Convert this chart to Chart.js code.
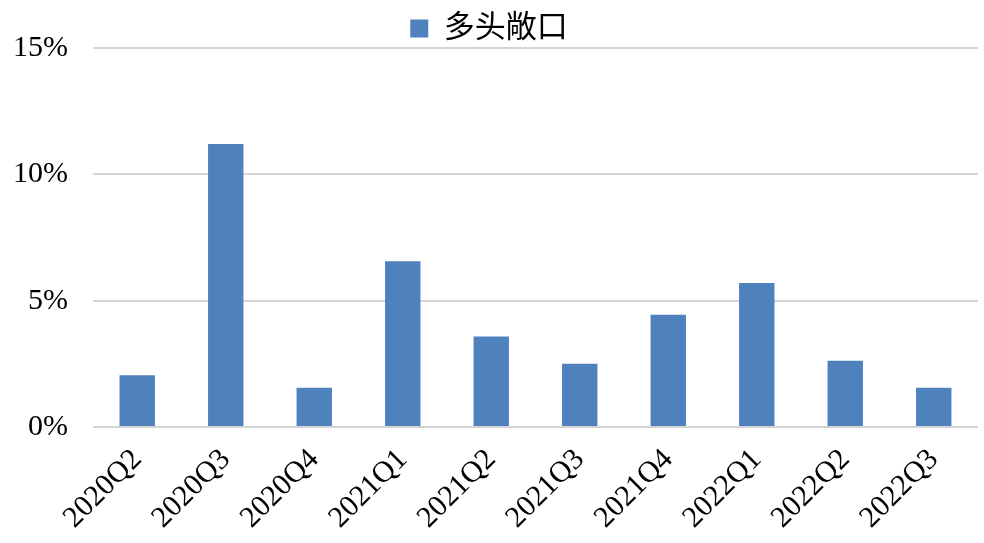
<!DOCTYPE html>
<html>
<head>
<meta charset="utf-8">
<script src="https://cdn.jsdelivr.net/npm/chart.js@4"></script>
<style>
  html, body { margin: 0; padding: 0; background: #fff; }
  #wrap { width: 984px; height: 543px; }
</style>
</head>
<body>
<div id="wrap"><canvas id="chart" width="984" height="543"></canvas></div>
<script>
// quarters on the x axis
const quarters = ['2020Q2', '2020Q3', '2020Q4', '2021Q1', '2021Q2', '2021Q3', '2021Q4', '2022Q1', '2022Q2', '2022Q3'];
// long exposure, percent
const longExposure = [2.05, 11.2, 1.55, 6.56, 3.58, 2.5, 4.44, 5.7, 2.62, 1.55];
const yTicks = [0, 5, 10, 15];

const serif = "'Liberation Serif', 'Times New Roman', serif";
const cjk = "'Liberation Serif', 'Noto Sans CJK SC', serif";

new Chart(document.getElementById('chart'), {
  type: 'bar',
  data: {
    labels: quarters,
    datasets: [{
      label: '多头敞口',
      data: longExposure,
      backgroundColor: '#4f81bd',
      borderWidth: 0,
      categoryPercentage: 1,
      barPercentage: 0.4
    }]
  },
  options: {
    responsive: false,
    animation: false,
    layout: { padding: { left: 0, right: 6, top: 0, bottom: 0 } },
    plugins: {
      legend: {
        position: 'top',
        maxHeight: 48,
        labels: {
          color: '#000',
          font: { family: cjk, size: 31 },
          boxWidth: 18,
          boxHeight: 18,
          padding: 13
        }
      },
      tooltip: { enabled: false }
    },
    scales: {
      x: {
        grid: { display: false },
        border: { display: false },
        ticks: {
          color: '#000',
          font: { family: serif, size: 30 },
          maxRotation: 45,
          minRotation: 45,
          padding: 7
        },
        afterFit: s => { s.height = 116; }
      },
      y: {
        min: 0,
        max: 15,
        afterBuildTicks: s => { s.ticks = yTicks.map(v => ({ value: v })); },
        grid: { color: '#d4d4d4', lineWidth: 2, drawTicks: false },
        border: { display: false },
        ticks: {
          color: '#000',
          font: { family: serif, size: 30 },
          padding: 25,
          callback: v => v + '%'
        },
        afterFit: s => { s.width = 93; }
      }
    }
  }
});
</script>
</body>
</html>
